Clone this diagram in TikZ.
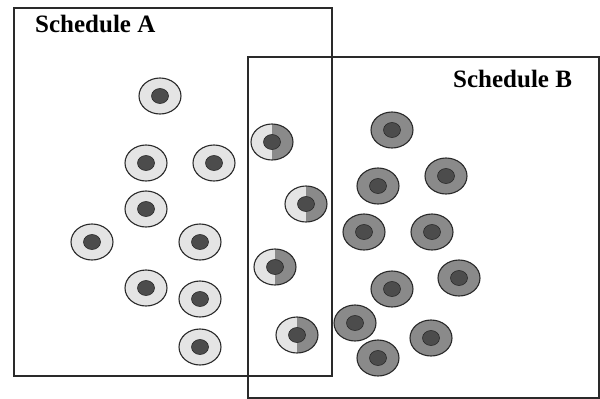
\documentclass[tikz,border=0pt]{standalone}
\usepackage{fontspec}
\setmainfont{Liberation Serif}
\usetikzlibrary{shapes.geometric}
\definecolor{edge}{HTML}{2A2A2A}
\definecolor{cellLight}{HTML}{E4E4E4}
\definecolor{cellDark}{HTML}{8A8A8A}
\definecolor{nucDark}{HTML}{4C4C4C}
\tikzset{
  frame/.style={draw=edge, line width=1.6pt},
  title/.style={font=\fontsize{25}{28}\selectfont\bfseries, inner sep=0, anchor=base west},
  cellbase/.style={ellipse, draw=edge, line width=1.1pt, minimum width=42pt, minimum height=36pt, inner sep=0},
  lightcell/.style={cellbase, fill=cellLight},
  darkcell/.style={cellbase, fill=cellDark},
  halfcell/.style={cellbase, path picture={
      \fill[cellLight] (path picture bounding box.south west) rectangle (path picture bounding box.north);
      \fill[cellDark] (path picture bounding box.south) rectangle (path picture bounding box.north east);}},
  nucleus/.style={ellipse, draw=edge, line width=0.6pt, fill=nucDark, minimum width=17pt, minimum height=15pt, inner sep=0},
}
\begin{document}
\begin{tikzpicture}[x=1pt,y=-1pt]
  \useasboundingbox (0,0) rectangle (600,399);
  % the two schedule frames
  \node[frame, rectangle, inner sep=0, minimum width=318pt, minimum height=368pt, anchor=north west] (boxA) at (13,7) {};
  \node[frame, rectangle, inner sep=0, minimum width=351pt, minimum height=341pt, anchor=north west] (boxB) at (247,56) {};
  \node[title] (titleA) at (35,32) {Schedule A};
  \node[title] (titleB) at (453,87) {Schedule B};
  % cells only in schedule A
  \foreach \n/\x/\y in {a1/160/96, a2/146/163, a3/214/163, a4/146/209, a5/92/242,
                        a6/200/242, a7/146/288, a8/200/299, a9/200/347} {
    \node[lightcell] (\n) at (\x,\y) {};
    \node[nucleus] (\n n) at (\n) {};
  }
  % cells shared by both schedules
  \foreach \n/\x/\y in {h1/272/142, h2/306/204, h3/275/267, h4/297/335} {
    \node[halfcell] (\n) at (\x,\y) {};
    \node[nucleus] (\n n) at (\n) {};
  }
  % cells only in schedule B
  \foreach \n/\x/\y in {b1/392/130, b2/378/186, b3/446/176, b4/364/232, b5/432/232,
                        b6/392/289, b7/459/278, b8/355/323, b9/431/338, b10/378/358} {
    \node[darkcell] (\n) at (\x,\y) {};
    \node[nucleus] (\n n) at (\n) {};
  }
\end{tikzpicture}
\end{document}
